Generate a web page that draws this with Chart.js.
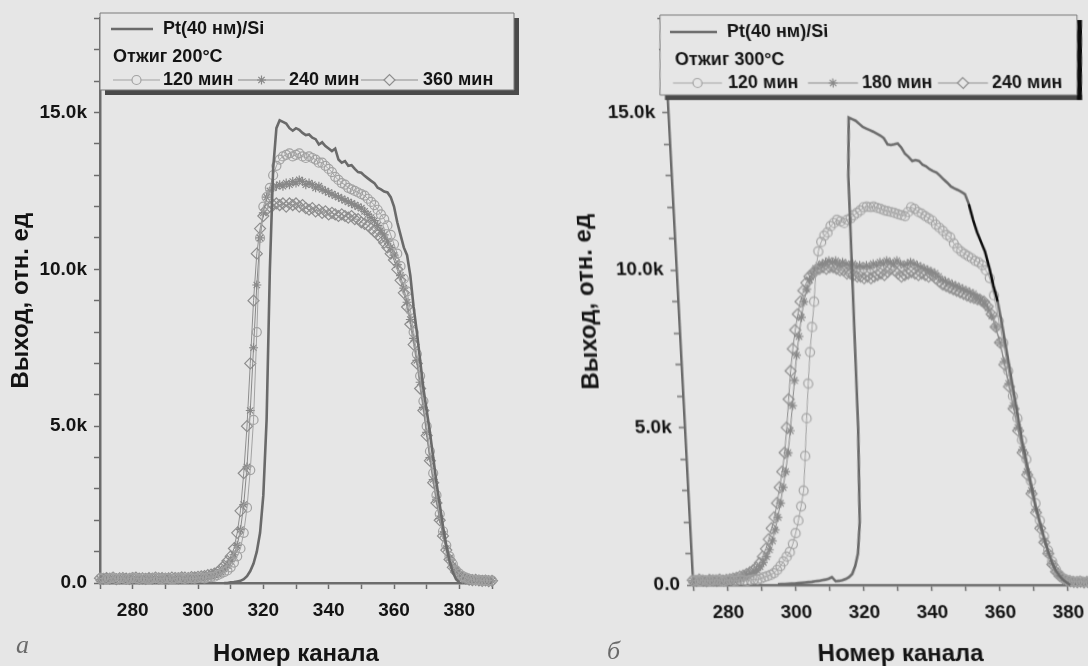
<!DOCTYPE html>
<html lang="ru">
<head>
<meta charset="utf-8">
<title>Спектры Pt(40 нм)/Si после отжига</title>
<script src="https://cdn.jsdelivr.net/npm/chart.js@4.4.1/dist/chart.umd.min.js"></script>
<style>
    html, body { margin: 0; padding: 0; }
    body {
        width: 1088px;
        height: 666px;
        overflow: hidden;
        position: relative;
        background: #e6e6e6;
        font-family: 'Liberation Sans', Arial, sans-serif;
    }
    canvas { position: absolute; top: 0; }
    #chartA { left: 0; }
    /* правая панель на скане слегка перекошена */
    #chartB { left: 560px; transform: skewX(3deg); transform-origin: 0 585px; }
    .panel-mark {
        position: absolute;
        font-family: 'Liberation Serif', 'DejaVu Serif', serif;
        font-style: italic;
        font-size: 26px;
        line-height: 1;
        color: #6a6a6a;
    }
</style>
</head>
<body>
<canvas id="chartA" width="544" height="666"></canvas>
<canvas id="chartB" width="620" height="666"></canvas>
<div class="panel-mark" style="left:16px; top:632px;">а</div>
<div class="panel-mark" style="left:607px; top:638px;">б</div>

<script>
// ---- данные ----
const CHANNELS = [
    270, 271, 272, 273, 274, 275, 276, 277, 278, 279,
    280, 281, 282, 283, 284, 285, 286, 287, 288, 289,
    290, 291, 292, 293, 294, 295, 296, 297, 298, 299,
    300, 301, 302, 303, 304, 305, 306, 307, 308, 309,
    310, 311, 312, 313, 314, 315, 316, 317, 318, 319,
    320, 321, 322, 323, 324, 325, 326, 327, 328, 329,
    330, 331, 332, 333, 334, 335, 336, 337, 338, 339,
    340, 341, 342, 343, 344, 345, 346, 347, 348, 349,
    350, 351, 352, 353, 354, 355, 356, 357, 358, 359,
    360, 361, 362, 363, 364, 365, 366, 367, 368, 369,
    370, 371, 372, 373, 374, 375, 376, 377, 378, 379,
    380, 381, 382, 383, 384, 385, 386, 387, 388, 389,
    390
];

const X_TICKS = [270, 280, 290, 300, 310, 320, 330, 340, 350, 360, 370, 380, 390];
const X_LABELED = [280, 300, 320, 340, 360, 380];
const Y_TICKS = [0, 1, 2, 3, 4, 5, 6, 7, 8, 9, 10, 11, 12, 13, 14, 15, 16, 17, 18];
const Y_LABELED = [0, 5, 10, 15];
const Y_TICK_LABELS = ['0.0', '5.0k', '10.0k', '15.0k'];

const PT_LABEL = 'Pt(40 нм)/Si';
const LABELS_A = ['120 мин', '240 мин', '360 мин'];
const LABELS_B = ['120 мин', '180 мин', '240 мин'];
const NOTE_A = 'Отжиг 200°C';
const NOTE_B = 'Отжиг 300°C';

// выход, тыс. отсчётов (а) отжиг 200°C
const A_PT = [
    null, null, null, null, null, null, null, null, null, null,
    null, null, null, null, null, null, null, null, null, null,
    null, null, null, null, null, null, null, null, null, null,
    null, null, null, null, null, null, null, null, 0.00, 0.00,
    0.02, 0.03, 0.05, 0.07, 0.12, 0.22, 0.38, 0.62, 1.00, 1.60,
    2.80, 5.20, 10.0, 13.2, 14.5, 14.75, 14.7, 14.65, 14.5, 14.42,
    14.5, 14.45, 14.35, 14.28, 14.3, 14.2, 14.15, 13.98, 14.05, 13.93,
    13.85, 13.77, 13.85, 13.5, 13.4, 13.45, 13.3, 13.32, 13.2, 13.1,
    13.08, 12.98, 12.9, 12.82, 12.75, 12.6, 12.55, 12.48, 12.45, 12.3,
    12.0, 11.5, 11.1, 10.7, 10.45, 9.8, 8.8, 8.0, 7.1, 6.2,
    5.5, 4.8, 4.0, 3.2, 2.5, 1.8, 1.2, 0.7, 0.35, 0.12,
    0.02, null, null, null, null, null, null, null, null, null,
    null
];
const A_120 = [
    0.14, 0.16, 0.12, 0.15, 0.17, 0.13, 0.15, 0.16, 0.12, 0.14,
    0.17, 0.15, 0.13, 0.16, 0.14, 0.12, 0.15, 0.17, 0.14, 0.13,
    0.16, 0.15, 0.12, 0.14, 0.17, 0.15, 0.13, 0.16, 0.15, 0.14,
    0.16, 0.17, 0.15, 0.18, 0.19, 0.2, 0.25, 0.3, 0.35, 0.4,
    0.5, 0.65, 0.85, 1.1, 1.6, 2.4, 3.6, 5.2, 8.0, 11.0,
    12.0, 12.3, 12.6, 13.0, 13.3, 13.5, 13.6, 13.65, 13.7, 13.6,
    13.65, 13.7, 13.6, 13.55, 13.6, 13.55, 13.5, 13.4, 13.4, 13.3,
    13.2, 13.1, 12.95, 12.85, 12.75, 12.7, 12.6, 12.55, 12.5, 12.45,
    12.4, 12.35, 12.25, 12.15, 12.05, 11.9, 11.75, 11.6, 11.4, 11.1,
    10.8, 10.5, 10.1, 9.7, 9.3, 8.7, 8.0, 7.3, 6.6, 5.8,
    5.0, 4.2, 3.5, 2.8, 2.2, 1.65, 1.2, 0.85, 0.6, 0.4,
    0.3, 0.22, 0.17, 0.13, 0.11, 0.09, 0.1, 0.08, 0.09, 0.07,
    0.08
];
const A_240 = [
    0.12, 0.15, 0.17, 0.13, 0.14, 0.16, 0.12, 0.15, 0.17, 0.13,
    0.15, 0.14, 0.16, 0.12, 0.15, 0.17, 0.13, 0.14, 0.16, 0.15,
    0.13, 0.17, 0.14, 0.15, 0.13, 0.16, 0.15, 0.17, 0.16, 0.18,
    0.17, 0.19, 0.2, 0.21, 0.23, 0.25, 0.3, 0.35, 0.45, 0.55,
    0.7, 0.9, 1.2, 1.7, 2.5, 3.7, 5.5, 7.5, 9.5, 11.0,
    11.8, 12.3, 12.5, 12.6, 12.65, 12.7, 12.65, 12.75, 12.7, 12.8,
    12.75, 12.85, 12.8, 12.7, 12.75, 12.7, 12.6, 12.65, 12.55, 12.5,
    12.45, 12.4, 12.35, 12.3, 12.25, 12.2, 12.15, 12.1, 12.05, 12.0,
    11.95, 11.85, 11.75, 11.65, 11.55, 11.4, 11.25, 11.1, 10.9, 10.7,
    10.45, 10.15, 9.8, 9.4, 8.95, 8.4, 7.8, 7.1, 6.4, 5.6,
    4.8, 4.0, 3.3, 2.65, 2.05, 1.55, 1.1, 0.8, 0.55, 0.38,
    0.27, 0.2, 0.15, 0.12, 0.1, 0.09, 0.08, 0.09, 0.07, 0.08,
    0.07
];
const A_360 = [
    0.15, 0.13, 0.16, 0.14, 0.17, 0.12, 0.15, 0.16, 0.14, 0.13,
    0.16, 0.17, 0.14, 0.15, 0.13, 0.16, 0.14, 0.17, 0.15, 0.16,
    0.14, 0.15, 0.17, 0.16, 0.15, 0.18, 0.17, 0.16, 0.19, 0.18,
    0.2, 0.21, 0.22, 0.25, 0.27, 0.3, 0.35, 0.45, 0.55, 0.7,
    0.85, 1.1, 1.6, 2.3, 3.5, 5.0, 7.0, 9.0, 10.5, 11.3,
    11.7, 11.9, 12.0, 12.05, 12.1, 12.05, 12.1, 12.0, 12.1, 12.05,
    12.1, 12.0, 12.05, 11.95, 11.9, 11.95, 11.85, 11.9, 11.8, 11.85,
    11.75, 11.8, 11.75, 11.7, 11.75, 11.7, 11.65, 11.7, 11.6, 11.6,
    11.5, 11.45, 11.4, 11.3, 11.2, 11.1, 11.0, 10.85, 10.7, 10.5,
    10.3, 10.0, 9.65, 9.25, 8.8, 8.25, 7.6, 7.0, 6.2, 5.5,
    4.7, 3.9, 3.2, 2.55, 2.0, 1.5, 1.05, 0.75, 0.5, 0.35,
    0.25, 0.18, 0.14, 0.11, 0.09, 0.1, 0.08, 0.07, 0.08, 0.06,
    0.07
];

// выход, тыс. отсчётов (б) отжиг 300°C
const B_PT = [
    null, null, null, null, null, null, null, null, null, null,
    null, null, null, null, null, null, null, null, null, null,
    null, null, null, null, null, 0.02, 0.03, 0.03, 0.04, 0.05,
    0.05, 0.06, 0.07, 0.08, 0.09, 0.1, 0.12, 0.13, 0.15, 0.17,
    0.2, 0.25, 0.12, 0.13, 0.15, 0.19, 0.25, 0.35, 0.6, 1.0,
    2.0, 5.0, 13.0, 14.85, 14.8, 14.75, 14.65, 14.55, 14.5, 14.45,
    14.4, 14.34, 14.28, 14.2, 14.0, 13.98, 14.0, 14.03, 13.9, 13.7,
    13.6, 13.47, 13.5, 13.47, 13.35, 13.3, 13.21, 13.15, 13.1, 13.0,
    12.88, 12.78, 12.66, 12.6, 12.55, 12.49, 12.42, 12.1, 11.6, 11.2,
    10.9, 10.6, 10.1, 9.5, 9.0, 8.2, 7.3, 6.4, 5.5, 4.6,
    3.9, 3.2, 2.5, 2.0, 1.5, 1.05, 0.7, 0.45, 0.28, 0.16,
    0.07, 0.0, null, null, null, null, null, null, null, null,
    null
];
const B_120 = [
    0.13, 0.15, 0.12, 0.16, 0.14, 0.13, 0.15, 0.17, 0.14, 0.12,
    0.15, 0.16, 0.13, 0.14, 0.17, 0.15, 0.13, 0.16, 0.18, 0.17,
    0.2, 0.25, 0.28, 0.32, 0.38, 0.48, 0.6, 0.75, 0.9, 1.05,
    1.3, 1.65, 2.05, 2.5, 3.0, 4.1, 5.3, 6.4, 7.4, 8.2,
    9.0, 10.0, 10.6, 10.9, 11.1, 11.2, 11.4, 11.5, 11.6, 11.55,
    11.5, 11.6, 11.65, 11.75, 11.82, 11.9, 12.0, 12.02, 12.0, 12.02,
    11.98, 11.95, 11.9, 11.88, 11.85, 11.82, 11.78, 11.75, 11.72, 11.85,
    12.0, 11.95, 11.85, 11.8, 11.72, 11.65, 11.58, 11.45, 11.35, 11.25,
    11.12, 11.05, 10.85, 10.7, 10.6, 10.52, 10.45, 10.38, 10.3, 10.25,
    10.16, 10.0, 9.75, 9.2, 8.4, 7.7, 6.8, 6.0, 5.3, 4.6,
    4.0, 3.3, 2.6, 2.05, 1.55, 1.1, 0.75, 0.5, 0.32, 0.22,
    0.16, 0.13, 0.11, 0.1, 0.12, 0.09, 0.1, 0.08, 0.09, 0.1,
    0.08
];
const B_180 = [
    0.14, 0.12, 0.16, 0.15, 0.13, 0.17, 0.14, 0.15, 0.12, 0.16,
    0.14, 0.17, 0.15, 0.18, 0.2, 0.24, 0.3, 0.35, 0.4, 0.48,
    0.58, 0.72, 0.9, 1.12, 1.4, 1.75, 2.15, 2.6, 3.1, 3.6,
    4.2, 4.9, 5.7, 6.5, 7.3, 7.9, 8.5, 9.0, 9.4, 9.7,
    9.9, 10.05, 10.15, 10.2, 10.25, 10.3, 10.25, 10.3, 10.2, 10.25,
    10.2, 10.15, 10.2, 10.1, 10.15, 10.1, 10.15, 10.1, 10.2, 10.15,
    10.25, 10.2, 10.3, 10.25, 10.2, 10.3, 10.2, 10.15, 10.2, 10.25,
    10.2, 10.15, 10.1, 10.05, 10.0, 9.95, 9.9, 9.8, 9.7, 9.65,
    9.6, 9.55, 9.5, 9.45, 9.4, 9.35, 9.3, 9.25, 9.15, 9.05,
    8.95, 8.8, 8.55, 8.2, 7.7, 7.1, 6.4, 5.7, 5.0, 4.3,
    3.6, 3.0, 2.4, 1.85, 1.4, 1.0, 0.68, 0.45, 0.3, 0.22,
    0.16, 0.12, 0.1, 0.11, 0.09, 0.1, 0.08, 0.09, 0.07, 0.08,
    0.09
];
const B_240 = [
    0.15, 0.13, 0.17, 0.14, 0.12, 0.16, 0.15, 0.13, 0.17, 0.14,
    0.16, 0.18, 0.2, 0.23, 0.27, 0.3, 0.35, 0.4, 0.47, 0.55,
    0.7, 0.9, 1.15, 1.45, 1.8, 2.15, 2.6, 3.1, 3.6, 4.2,
    5.0, 5.9, 6.8, 7.5, 8.1, 8.6, 9.0, 9.35, 9.6, 9.8,
    9.9, 10.0, 10.05, 10.1, 10.05, 10.1, 10.1, 10.05, 10.0, 10.0,
    9.9, 9.9, 9.85, 9.8, 9.8, 9.75, 9.8, 9.75, 9.8, 9.85,
    9.9, 9.85, 9.95, 10.05, 10.0, 9.9, 9.8, 9.85, 9.9, 9.95,
    9.9, 9.85, 9.9, 9.85, 9.8, 9.85, 9.75, 9.65, 9.55, 9.5,
    9.45, 9.4, 9.35, 9.3, 9.25, 9.2, 9.15, 9.12, 9.08, 9.05,
    9.0, 8.85, 8.6, 8.2, 7.7, 7.0, 6.3, 5.6, 4.9, 4.2,
    3.5, 2.9, 2.3, 1.8, 1.35, 1.0, 0.65, 0.42, 0.28, 0.2,
    0.15, 0.12, 0.1, 0.09, 0.11, 0.08, 0.1, 0.09, 0.07, 0.08,
    0.09
];

// ---- оформление ----
const BG = '#e6e6e6';
const TEXT = '#141414';
const AXIS_GRAY = '#6c6c6c';
const PT_GRAY = '#6a6a6a';
const FONT_FAMILY = "'Liberation Sans', Arial, sans-serif";
const TICK_FONT = { family: FONT_FAMILY, size: 19, weight: 'bold' };
const TITLE_FONT = { family: FONT_FAMILY, size: 24, weight: 'bold', lineHeight: 1 };
const LEGEND_FONT = "bold 18px 'Liberation Sans', Arial, sans-serif";

const SERIES_STYLES = [
    { pointStyle: 'circle', radius: 4.5, color: '#a2a2a2' },
    { pointStyle: 'star', radius: 4.5, color: '#888888' },
    { pointStyle: 'rectRot', radius: 5.5, color: '#8e8e8e' }
];

// легенды (координаты страницы)
const LEGEND_A = {
    box: { x: 100, y: 13, w: 414, h: 77 },
    shadowRight: '#4a4a4a',
    shadowBottom: '#4a4a4a',
    ptRow: { y: 29, x0: 111, x1: 153, tx: 163 },
    noteRow: { y: 57, tx: 113 },
    seriesRow: { y: 80, items: [
        { x0: 113, x1: 160, tx: 163 },
        { x0: 238, x1: 285, tx: 289 },
        { x0: 361, x1: 418, tx: 423 }
    ] }
};
const LEGEND_B = {
    box: { x: 660, y: 15, w: 417, h: 80 },
    shadowRight: '#0c0c0c',
    shadowBottom: '#4a4a4a',
    ptRow: { y: 32, x0: 670, x1: 717, tx: 727 },
    noteRow: { y: 60, tx: 675 },
    seriesRow: { y: 83, items: [
        { x0: 673, x1: 722, tx: 728 },
        { x0: 808, x1: 858, tx: 862 },
        { x0: 938, x1: 988, tx: 992 }
    ] }
};

const PANELS = {
    chartA: {
        left: 0, skew: 0, axisY: 583,
        area: { left: 100, right: 492, top: 12, bottom: 583 },
        yTitlePad: 9, legend: LEGEND_A, note: NOTE_A, labels: LABELS_A, inkRange: null
    },
    chartB: {
        left: 560, skew: 3, axisY: 585,
        area: { left: 133, right: 541, top: 15, bottom: 585 },
        yTitlePad: 30, legend: LEGEND_B, note: NOTE_B, labels: LABELS_B, inkRange: [357, 364]
    }
};

function toPoints(values) {
    const pts = [];
    values.forEach((v, i) => {
        if (v !== null) pts.push({ x: CHANNELS[i], y: v });
    });
    return pts;
}

/**
 * Легенда в рамке с тенью, как в Origin
 */
const panelLegend = {
    id: 'panelLegend',
    afterDraw(chart) {
        const panel = PANELS[chart.canvas.id];
        const lg = panel.legend;
        const ctx = chart.ctx;
        const k = Math.tan(panel.skew * Math.PI / 180);
        const cx = (x, y) => x - panel.left + (panel.axisY - y) * k;

        const quad = (x, y, w, h) => {
            ctx.beginPath();
            ctx.moveTo(cx(x, y), y);
            ctx.lineTo(cx(x + w, y), y);
            ctx.lineTo(cx(x + w, y + h), y + h);
            ctx.lineTo(cx(x, y + h), y + h);
            ctx.closePath();
        };

        ctx.save();
        const b = lg.box;
        // тень
        ctx.fillStyle = lg.shadowBottom;
        quad(b.x + 5, b.y + b.h, b.w, 5);
        ctx.fill();
        ctx.fillStyle = lg.shadowRight;
        quad(b.x + b.w, b.y + 5, 5, b.h);
        ctx.fill();
        // рамка
        quad(b.x, b.y, b.w, b.h);
        ctx.fillStyle = BG;
        ctx.fill();
        ctx.strokeStyle = '#7a7a7a';
        ctx.lineWidth = 1;
        ctx.stroke();

        ctx.font = LEGEND_FONT;
        ctx.fillStyle = TEXT;
        ctx.textBaseline = 'middle';
        ctx.textAlign = 'left';

        // Pt(40 нм)/Si
        const r1 = lg.ptRow;
        ctx.strokeStyle = PT_GRAY;
        ctx.lineWidth = 2.6;
        ctx.beginPath();
        ctx.moveTo(cx(r1.x0, r1.y), r1.y);
        ctx.lineTo(cx(r1.x1, r1.y), r1.y);
        ctx.stroke();
        ctx.fillText(PT_LABEL, cx(r1.tx, r1.y), r1.y);

        // Отжиг
        ctx.fillText(panel.note, cx(lg.noteRow.tx, lg.noteRow.y), lg.noteRow.y);

        // серии
        const y = lg.seriesRow.y;
        lg.seriesRow.items.forEach((it, i) => {
            const st = SERIES_STYLES[i];
            ctx.strokeStyle = st.color;
            ctx.lineWidth = 1;
            ctx.beginPath();
            ctx.moveTo(cx(it.x0, y), y);
            ctx.lineTo(cx(it.x1, y), y);
            ctx.stroke();
            ctx.fillStyle = BG;
            ctx.strokeStyle = st.color;
            ctx.lineWidth = 1.2;
            Chart.helpers.drawPoint(ctx, {
                pointStyle: st.pointStyle, radius: st.radius, rotation: 0, borderWidth: 1.2
            }, cx((it.x0 + it.x1) / 2, y), y);
            ctx.fillStyle = TEXT;
            ctx.fillText(panel.labels[i], cx(it.tx, y), y);
        });
        ctx.restore();
    }
};

function buildChart(canvasId, ptValues, seriesValues) {
    const panel = PANELS[canvasId];
    const canvas = document.getElementById(canvasId);

    const datasets = [{
        label: PT_LABEL,
        data: toPoints(ptValues),
        borderColor: PT_GRAY,
        borderWidth: 2.6,
        pointRadius: 0,
        tension: 0,
        clip: false,
        segment: {
            borderColor: c => {
                const r = panel.inkRange;
                if (r && c.p0.parsed.x >= r[0] && c.p1.parsed.x <= r[1]) return '#0c0c0c';
                return undefined;
            }
        }
    }];

    seriesValues.forEach((vals, i) => {
        const st = SERIES_STYLES[i];
        datasets.push({
            label: panel.labels[i],
            data: toPoints(vals),
            borderColor: st.color,
            borderWidth: 1,
            pointStyle: st.pointStyle,
            pointRadius: st.radius,
            pointBorderColor: st.color,
            pointBorderWidth: 1.2,
            pointBackgroundColor: 'rgba(0,0,0,0)',
            tension: 0,
            clip: false
        });
    });

    return new Chart(canvas, {
        type: 'line',
        data: { datasets },
        options: {
            responsive: false,
            animation: false,
            events: [],
            layout: {
                padding: { left: 0, top: panel.area.top, right: canvas.width - panel.area.right, bottom: 0 }
            },
            plugins: {
                legend: { display: false },
                tooltip: { enabled: false }
            },
            scales: {
                x: {
                    type: 'linear',
                    min: 270,
                    max: 390,
                    afterBuildTicks: s => { s.ticks = X_TICKS.map(v => ({ value: v })); },
                    afterFit: s => { s.height = canvas.height - panel.area.bottom; },
                    ticks: {
                        callback: v => X_LABELED.includes(v) ? String(v) : '',
                        font: TICK_FONT,
                        color: TEXT,
                        padding: 10,
                        autoSkip: false,
                        maxRotation: 0,
                        minRotation: 0
                    },
                    grid: { drawOnChartArea: false, drawTicks: true, tickLength: 6, tickColor: AXIS_GRAY, tickWidth: 1.5 },
                    border: { display: true, color: AXIS_GRAY, width: 2.5 },
                    title: { display: true, text: 'Номер канала', font: TITLE_FONT, color: TEXT, padding: 0 }
                },
                y: {
                    type: 'linear',
                    min: 0,
                    max: 18,
                    afterBuildTicks: s => { s.ticks = Y_TICKS.map(v => ({ value: v })); },
                    afterFit: s => { s.width = panel.area.left; },
                    ticks: {
                        callback: v => {
                            const idx = Y_LABELED.indexOf(v);
                            return idx >= 0 ? Y_TICK_LABELS[idx] : '';
                        },
                        font: TICK_FONT,
                        color: TEXT,
                        padding: 7,
                        autoSkip: false
                    },
                    grid: { drawOnChartArea: false, drawTicks: true, tickLength: 6, tickColor: AXIS_GRAY, tickWidth: 1.5 },
                    border: { display: true, color: AXIS_GRAY, width: 2.5 },
                    title: {
                        display: true, text: 'Выход, отн. ед', font: TITLE_FONT, color: TEXT,
                        padding: { top: panel.yTitlePad, bottom: 0 }
                    }
                }
            }
        },
        plugins: [panelLegend]
    });
}

document.addEventListener('DOMContentLoaded', function() {
    buildChart('chartA', A_PT, [A_120, A_240, A_360]);
    buildChart('chartB', B_PT, [B_120, B_180, B_240]);
});
</script>
</body>
</html>
